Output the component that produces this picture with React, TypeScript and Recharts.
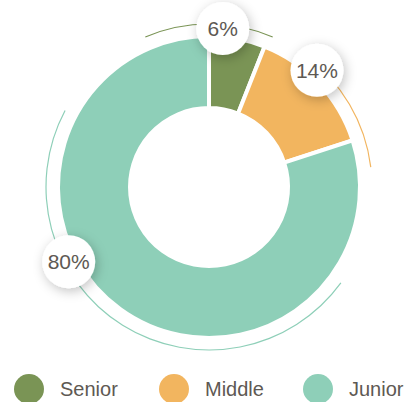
import React from 'react';
import { PieChart, Pie, Cell, Legend } from 'recharts';

const categories = ['Senior', 'Middle', 'Junior'];
const values = [6, 14, 80];
const colors = ['#7a9455', '#f2b55f', '#8ecfb8'];
// where the value badge sits inside each slice (fraction of the slice sweep)
const labelFractions = [0.23, 0.42, 0.59];
// decorative outer arcs, clockwise degrees from 12 o'clock
const arcFrom = [-23, 36, 126];
const arcTo = [23, 83, 298];

const data = categories.map((name, i) => ({ name, value: values[i] }));

const CX = 209;
const CY = 187;
const RAD = Math.PI / 180;

const renderLabel = (props: any) => {
  const { cx, cy, outerRadius, index, startAngle, endAngle } = props;
  const f = labelFractions[index];
  const ang = startAngle + (endAngle - startAngle) * f;
  const r = outerRadius + 8;
  const x = cx + r * Math.cos(-ang * RAD);
  const y = cy + r * Math.sin(-ang * RAD);
  return (
    <g key={`lbl-${index}`}>
      <circle cx={x} cy={y} r={26.5} fill="#ffffff" filter="url(#badgeShadow)" />
      <text
        x={x}
        y={y}
        textAnchor="middle"
        dominantBaseline="central"
        fill="#5e5953"
        fontSize={21}
        fontFamily="'Liberation Sans', Arial, sans-serif"
      >
        {`${values[index]}%`}
      </text>
    </g>
  );
};

const renderLegend = () => (
  <div
    style={{
      display: 'flex',
      alignItems: 'center',
      fontFamily: "'Liberation Sans', Arial, sans-serif",
      fontSize: 20,
      color: '#5e5953',
      width: 408,
    }}
  >
    {categories.map((c, i) => (
      <div
        key={c}
        style={{
          display: 'flex',
          alignItems: 'center',
          flexShrink: 0,
          marginLeft: i === 0 ? 14 : 0,
          width: i === 2 ? 'auto' : i === 0 ? 145 : 144,
        }}
      >
        <span
          style={{
            display: 'inline-block',
            flexShrink: 0,
            width: 30,
            height: 30,
            borderRadius: '50%',
            background: colors[i],
            marginRight: 16,
          }}
        />
        <span style={{ whiteSpace: 'nowrap' }}>{c}</span>
      </div>
    ))}
  </div>
);

export default function App() {
  return (
    <div style={{ position: 'absolute', left: 0, top: 0, width: 408, height: 402, background: '#fff', overflow: 'hidden' }}>
      <svg width={0} height={0} style={{ position: 'absolute' }}>
        <defs>
          <filter id="badgeShadow" x="-60%" y="-60%" width="220%" height="220%">
            <feDropShadow dx={2} dy={3} stdDeviation={6} floodColor="#000" floodOpacity={0.24} />
          </filter>
        </defs>
      </svg>
      <PieChart width={408} height={402} margin={{ top: 0, right: 0, bottom: 0, left: 0 }}>
        {categories.map((c, i) => (
          <Pie
            key={`arc-${c}`}
            data={[{ name: c, value: 1 }]}
            dataKey="value"
            cx={CX}
            cy={CY}
            innerRadius={162.4}
            outerRadius={163.6}
            startAngle={90 - arcFrom[i]}
            endAngle={90 - arcTo[i]}
            stroke="none"
            fill={colors[i]}
            isAnimationActive={false}
            legendType="none"
          />
        ))}
        <Pie
          data={data}
          dataKey="value"
          nameKey="name"
          cx={CX}
          cy={CY}
          innerRadius={79}
          outerRadius={151}
          startAngle={90}
          endAngle={-270}
          stroke="#ffffff"
          strokeWidth={4}
          label={renderLabel}
          labelLine={false}
          isAnimationActive={false}
        >
          {data.map((d, i) => (
            <Cell key={d.name} fill={colors[i]} />
          ))}
        </Pie>
        <Legend
          content={renderLegend}
          wrapperStyle={{ position: 'absolute', left: 0, top: 374, width: 408 }}
        />
      </PieChart>
    </div>
  );
}
